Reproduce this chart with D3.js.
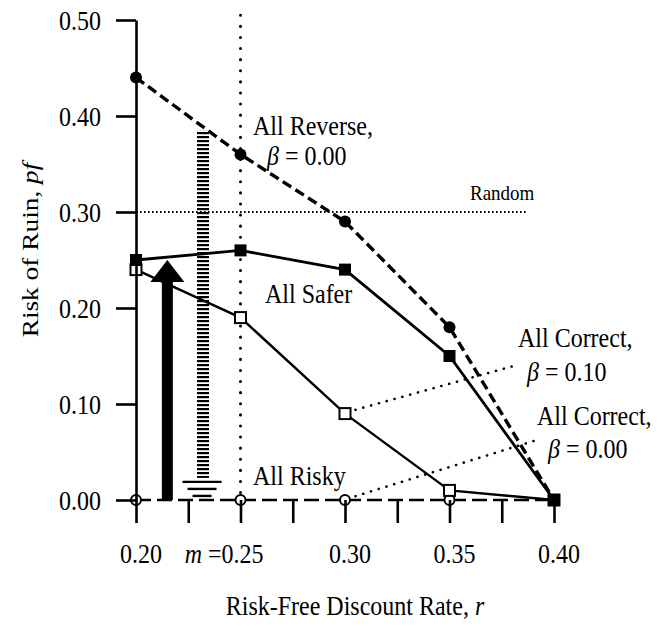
<!DOCTYPE html>
<html>
<head>
<meta charset="utf-8">
<script src="https://cdn.jsdelivr.net/npm/d3@7"></script>
<style>
  body { margin: 0; background: #fff; }
  svg { display: block; }
  text { font-family: "Liberation Serif", "Times New Roman", serif; fill: #000; }
</style>
</head>
<body>
<svg id="chart" width="670" height="625"></svg>
<script>
// Discount rates on the horizontal axis
const rates = [0.20, 0.25, 0.30, 0.35, 0.40];

// Risk of ruin for each strategy
const allReverse   = [0.44, 0.36, 0.29, 0.18, 0.00];
const allSafer     = [0.25, 0.26, 0.24, 0.15, 0.00];
const allCorrect10 = [0.24, 0.19, 0.09, 0.01, 0.00];
const allRisky     = [0.00, 0.00, 0.00, 0.00, 0.00];

// Reference levels
const randomLevel = 0.30;
const meanRate = 0.25;

// Axis ticks and labels
const yTicks = [0.00, 0.10, 0.20, 0.30, 0.40, 0.50];
const yTickLabels = ["0.00", "0.10", "0.20", "0.30", "0.40", "0.50"];
const xTicks = [0.200, 0.225, 0.250, 0.275, 0.300, 0.325, 0.350, 0.375, 0.400];
const xLabelRates = [0.20, 0.25, 0.30, 0.35, 0.40];
const xTickLabels = ["0.20", "0.25", "0.30", "0.35", "0.40"];

// Shift arrows: safe (solid, upward) and risky (hatched, downward to ground)
const safeShift  = { rate: 0.215,  from: 0.00,  to: 0.25 };
const riskyShift = { rate: 0.2316, from: 0.385, to: 0.023 };

// Dotted leader lines for the "All Correct" labels, [rate, risk]
const leaders = [
  { from: [0.305, 0.094], to: [0.383, 0.141] },
  { from: [0.305, 0.004], to: [0.391, 0.062] }
];

const svg = d3.select("#chart");
const x = d3.scaleLinear().domain([0.20, 0.40]).range([136, 554]);
const y = d3.scaleLinear().domain([0.00, 0.50]).range([500, 20]);

const STRETCH = 1.14;   // tall serif lettering
const FS = 24;

function label(px, py, parts, opts = {}) {
  const t = svg.append("text")
    .attr("transform", `translate(${px},${py}) scale(1,${STRETCH})` + (opts.rotate ? ` rotate(${opts.rotate})` : ""))
    .attr("font-size", opts.size || FS)
    .attr("text-anchor", opts.anchor || "start");
  parts.forEach(p => {
    const s = typeof p === "string" ? { t: p } : p;
    t.append("tspan").text(s.t).attr("font-style", s.i ? "italic" : null);
  });
  return t;
}

// vertical dotted line at the mean rate
svg.append("line")
  .attr("x1", x(meanRate)).attr("x2", x(meanRate))
  .attr("y1", y(0.505)).attr("y2", y(0))
  .attr("stroke", "#000").attr("stroke-width", 3)
  .attr("stroke-linecap", "round").attr("stroke-dasharray", "0.1 11");

// random-choice level
svg.append("line")
  .attr("x1", x(0.20)).attr("x2", x(0.387))
  .attr("y1", y(randomLevel)).attr("y2", y(randomLevel))
  .attr("stroke", "#000").attr("stroke-width", 1.8)
  .attr("stroke-dasharray", "1.6 2.4");

// leader lines
leaders.forEach(l => {
  svg.append("line")
    .attr("x1", x(l.from[0])).attr("y1", y(l.from[1]))
    .attr("x2", x(l.to[0])).attr("y2", y(l.to[1]))
    .attr("stroke", "#000").attr("stroke-width", 2.6)
    .attr("stroke-linecap", "round").attr("stroke-dasharray", "0.1 8");
});

// hatched downward shift with ground symbol
const defs = svg.append("defs");
const pat = defs.append("pattern").attr("id", "stripes")
  .attr("patternUnits", "userSpaceOnUse").attr("width", 14).attr("height", 4);
pat.append("rect").attr("x", 1).attr("y", 0).attr("width", 12).attr("height", 2.2).attr("fill", "#000");

const hx = x(riskyShift.rate);
svg.append("rect")
  .attr("x", hx - 7).attr("width", 14)
  .attr("y", y(riskyShift.from)).attr("height", y(riskyShift.to) - y(riskyShift.from))
  .attr("fill", "url(#stripes)");
[[4, 19.5], [11, 14.5], [18, 9.5]].forEach(([dy, hw]) => {
  svg.append("line")
    .attr("x1", hx - hw).attr("x2", hx + hw)
    .attr("y1", y(riskyShift.to) + dy).attr("y2", y(riskyShift.to) + dy)
    .attr("stroke", "#000").attr("stroke-width", 2.4);
});

// series lines
const line = d3.line().x((d, i) => x(rates[i])).y(d => y(d));
svg.append("path").datum(allRisky).attr("d", line)
  .attr("fill", "none").attr("stroke", "#000").attr("stroke-width", 2.5)
  .attr("stroke-dasharray", "15 6");
svg.append("path").datum(allCorrect10).attr("d", line)
  .attr("fill", "none").attr("stroke", "#000").attr("stroke-width", 2.4);
svg.append("path").datum(allSafer).attr("d", line)
  .attr("fill", "none").attr("stroke", "#000").attr("stroke-width", 2.8);
svg.append("path").datum(allReverse).attr("d", line)
  .attr("fill", "none").attr("stroke", "#000").attr("stroke-width", 3.4)
  .attr("stroke-dasharray", "10 5");

// solid upward shift arrow
const ax = x(safeShift.rate), ab = y(safeShift.from), at = y(safeShift.to);
const sw = 5.5, hw = 17, hl = 22;
svg.append("path")
  .attr("d", `M${ax - sw},${ab} L${ax - sw},${at + hl} L${ax - hw},${at + hl} L${ax},${at} L${ax + hw},${at + hl} L${ax + sw},${at + hl} L${ax + sw},${ab} Z`)
  .attr("fill", "#000");

// markers
svg.selectAll(".risky").data(allRisky).join("circle")
  .attr("cx", (d, i) => x(rates[i])).attr("cy", d => y(d)).attr("r", 5)
  .attr("fill", "#fff").attr("stroke", "#000").attr("stroke-width", 2);
svg.selectAll(".correct").data(allCorrect10).join("rect")
  .attr("x", (d, i) => x(rates[i]) - 5.5).attr("y", d => y(d) - 5.5)
  .attr("width", 11).attr("height", 11)
  .attr("fill", "#fff").attr("stroke", "#000").attr("stroke-width", 2);
svg.selectAll(".reverse").data(allReverse).join("circle")
  .attr("cx", (d, i) => x(rates[i])).attr("cy", d => y(d)).attr("r", 6)
  .attr("fill", "#000");
svg.selectAll(".safer").data(allSafer).join("rect")
  .attr("x", (d, i) => x(rates[i]) - 6).attr("y", d => y(d) - 6)
  .attr("width", 12).attr("height", 12)
  .attr("fill", "#000");

// axes
const yAxis = svg.append("g").attr("transform", `translate(${x(0.20)},0)`)
  .call(d3.axisLeft(y).tickValues(yTicks).tickSize(20).tickSizeOuter(0).tickFormat(""));
yAxis.select(".domain").attr("stroke-width", 2.6);
yAxis.selectAll(".tick line").attr("stroke-width", 2.6);

const xAxis = svg.append("g").attr("transform", `translate(0,${y(0)})`)
  .call(d3.axisBottom(x).tickValues(xTicks).tickSize(23).tickSizeOuter(0).tickFormat(""));
xAxis.select(".domain").remove();
xAxis.selectAll(".tick line").attr("stroke-width", 2.6);

// tick labels
yTicks.forEach((v, i) => label(101, y(v) + 10, [yTickLabels[i]], { anchor: "end" }));
xLabelRates.forEach((v, i) => {
  if (v === meanRate) {
    label(x(v) + 23, 563, [{ t: "m", i: true }, " =", xTickLabels[i]], { anchor: "end" });
  } else {
    label(x(v) + 5, 563, [xTickLabels[i]], { anchor: "middle" });
  }
});

// axis titles
label(355, 615, ["Risk-Free Discount Rate, ", { t: "r", i: true }], { anchor: "middle" });
label(38, 250, ["Risk of Ruin, ", { t: "pf", i: true }], { anchor: "middle", rotate: -90 });

// series labels
label(253, 135, ["All Reverse,"]);
label(267, 165, [{ t: "β", i: true }, " = 0.00"]);
label(470, 200, ["Random"], { size: 19 });
label(265, 303, ["All Safer"]);
label(518, 347, ["All Correct,"]);
label(527, 381, [{ t: "β", i: true }, " = 0.10"]);
label(537, 425, ["All Correct,"]);
label(548, 458, [{ t: "β", i: true }, " = 0.00"]);
label(253, 485, ["All Risky"]);
</script>
</body>
</html>
